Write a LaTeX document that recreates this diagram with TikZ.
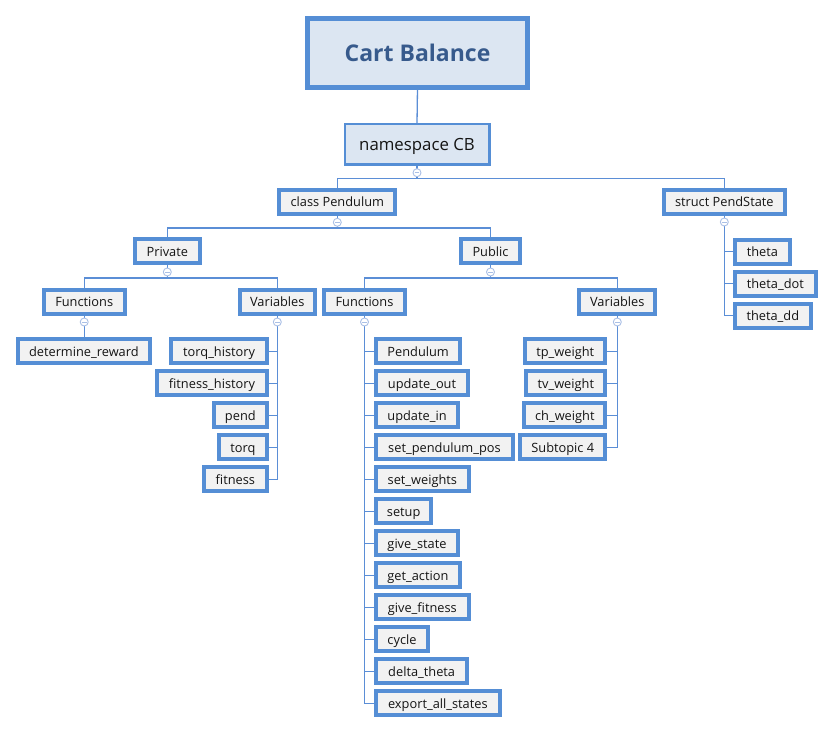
\documentclass[tikz,border=0pt]{standalone}
\usepackage{fontspec}
\setmainfont{Open Sans}
\usetikzlibrary{backgrounds}
\definecolor{bord}{RGB}{85,142,213}
\definecolor{conn}{RGB}{91,142,214}
\definecolor{gfill}{RGB}{242,242,242}
\definecolor{bfill}{RGB}{220,230,242}
\definecolor{titlec}{RGB}{55,90,140}
\definecolor{circc}{RGB}{170,192,230}
\definecolor{txt}{RGB}{20,20,20}
\begin{document}
\begin{tikzpicture}[x=1pt,y=-1pt,
  bx/.style={draw=bord,fill=gfill,line width=4pt,inner sep=0pt,outer sep=0pt,text=txt,
    font=\fontsize{12.8}{15}\selectfont,minimum height=24pt,text height=10.4pt,text depth=0pt},
  bw/.style={minimum width=#1pt-4pt},
  cn/.style={draw=conn,line width=1.3pt},
  cc/.style={circle,draw=circc,fill=white,line width=0.9pt,minimum size=8pt,inner sep=0pt,
    path picture={\draw[circc,line width=0.9pt]
      ([xshift=-2.3pt]path picture bounding box.center) --
      ([xshift=2.3pt]path picture bounding box.center);}}]
\useasboundingbox (0,0) rectangle (834,734);

% top levels
\node[draw=bord,fill=bfill,line width=5pt,inner sep=0pt,outer sep=0pt,minimum width=220pt,minimum height=69pt,
  text=titlec,font=\fontsize{23}{28}\selectfont\bfseries,text height=17.4pt,text depth=0pt] (cart) at (417.5,53) {Cart Balance};
\node[draw=bord,fill=bfill,line width=2.3pt,inner sep=0pt,outer sep=0pt,minimum width=144.7pt,minimum height=40.7pt,
  text=txt,font=\fontsize{16.8}{20}\selectfont,text height=13pt,text depth=0pt] (ns) at (417,144) {namespace CB};
\node[bx,bw=120] (cp) at (337.3,201.6) {class Pendulum};
\node[bx,bw=125.3] (ps) at (724.3,201.6) {struct PendState};
\node[bx,bw=68.7] (priv) at (167.3,251.2) {Private};
\node[bx,bw=62.4] (pub) at (490.5,251.2) {Public};
\node[bx,bw=85] (pf) at (84.2,301.5) {Functions};
\node[bx,bw=78.7] (pv) at (277.3,301.5) {Variables};
\node[bx,bw=85.6] (uf) at (364.5,301.5) {Functions};
\node[bx,bw=80] (uv) at (617.3,301.5) {Variables};

% private functions
\node[bx,bw=135.7] (dr) at (83.85,351.3) {determine\_reward};
% private variables
\node[bx,bw=99.7] (v1) at (219.15,351.3) {torq\_history};
\node[bx,bw=114] (v2) at (212,383.3) {fitness\_history};
\node[bx,bw=57.3] (v3) at (240.35,415.3) {pend};
\node[bx,bw=52.3] (v4) at (242.85,447.3) {torq};
\node[bx,bw=67.3] (v5) at (235.35,479.3) {fitness};
% public functions
\node[bx,bw=88.3] (f1) at (418.15,351.3) {Pendulum};
\node[bx,bw=96] (f2) at (422,383.3) {update\_out};
\node[bx,bw=86] (f3) at (417,415.3) {update\_in};
\node[bx,bw=141] (f4) at (444.5,447.3) {set\_pendulum\_pos};
\node[bx,bw=96.7] (f5) at (422.35,479.3) {set\_weights};
\node[bx,bw=59.3] (f6) at (403.65,511.3) {setup};
\node[bx,bw=86] (f7) at (417,543.3) {give\_state};
\node[bx,bw=87.7] (f8) at (417.85,575.3) {get\_action};
\node[bx,bw=96.7] (f9) at (422.35,607.3) {give\_fitness};
\node[bx,bw=56] (f10) at (402,639.3) {cycle};
\node[bx,bw=95.3] (f11) at (421.65,671.3) {delta\_theta};
\node[bx,bw=127.7] (f12) at (437.85,703.3) {export\_all\_states};
% public variables
\node[bx,bw=84] (w1) at (565.3,351.3) {tp\_weight};
\node[bx,bw=83] (w2) at (565.8,383.3) {tv\_weight};
\node[bx,bw=85] (w3) at (564.8,415.3) {ch\_weight};
\node[bx,bw=89] (w4) at (562.8,447.3) {Subtopic 4};
% PendState members
\node[bx,bw=58.7] (s1) at (762.35,251.6) {theta};
\node[bx,bw=84.7] (s2) at (775.35,283.6) {theta\_dot};
\node[bx,bw=79.7] (s3) at (772.85,315.6) {theta\_dd};

% bar coordinates
\coordinate (nsb) at (417,178.3);
\coordinate (cpb) at (337.3,227.9);
\coordinate (privb) at (167.3,277.9);
\coordinate (pubb) at (490.5,277.9);

% connectors
\begin{pgfonlayer}{background}
\fill[white] (0,0) rectangle (834,734);
\draw[cn] (cart.south) -- (ns.north);
\draw[cn] (ns.south) -- (nsb);
\draw[cn] (cp.north) |- (nsb) -| (ps.north);
\draw[cn] (cp.south) -- (cpb);
\draw[cn] (priv.north) |- (cpb) -| (pub.north);
\draw[cn] (priv.south) -- (privb);
\draw[cn] (pf.north) |- (privb) -| (pv.north);
\draw[cn] (pub.south) -- (pubb);
\draw[cn] (uf.north) |- (pubb) -| (uv.north);
\draw[cn] (pf.south) -- (pf.south |- dr.north);
\foreach \c in {v1,v2,v3,v4,v5} \draw[cn] (pv.south) |- (\c.east);
\foreach \c in {f1,f2,f3,f4,f5,f6,f7,f8,f9,f10,f11,f12} \draw[cn] (uf.south) |- (\c.west);
\foreach \c in {w1,w2,w3,w4} \draw[cn] (uv.south) |- (\c.east);
\foreach \c in {s1,s2,s3} \draw[cn] (ps.south) |- (\c.west);
\end{pgfonlayer}

% collapse markers
\node[cc] (k1) at (417,172.7) {};
\node[cc] (k2) at (337.3,222.3) {};
\node[cc] (k3) at (167.3,272) {};
\node[cc] (k4) at (490.5,272) {};
\node[cc] (k5) at (84.2,322) {};
\node[cc] (k6) at (277.3,322) {};
\node[cc] (k7) at (364.5,322) {};
\node[cc] (k8) at (617.3,322) {};
\node[cc] (k9) at (724.3,222) {};
\end{tikzpicture}
\end{document}
